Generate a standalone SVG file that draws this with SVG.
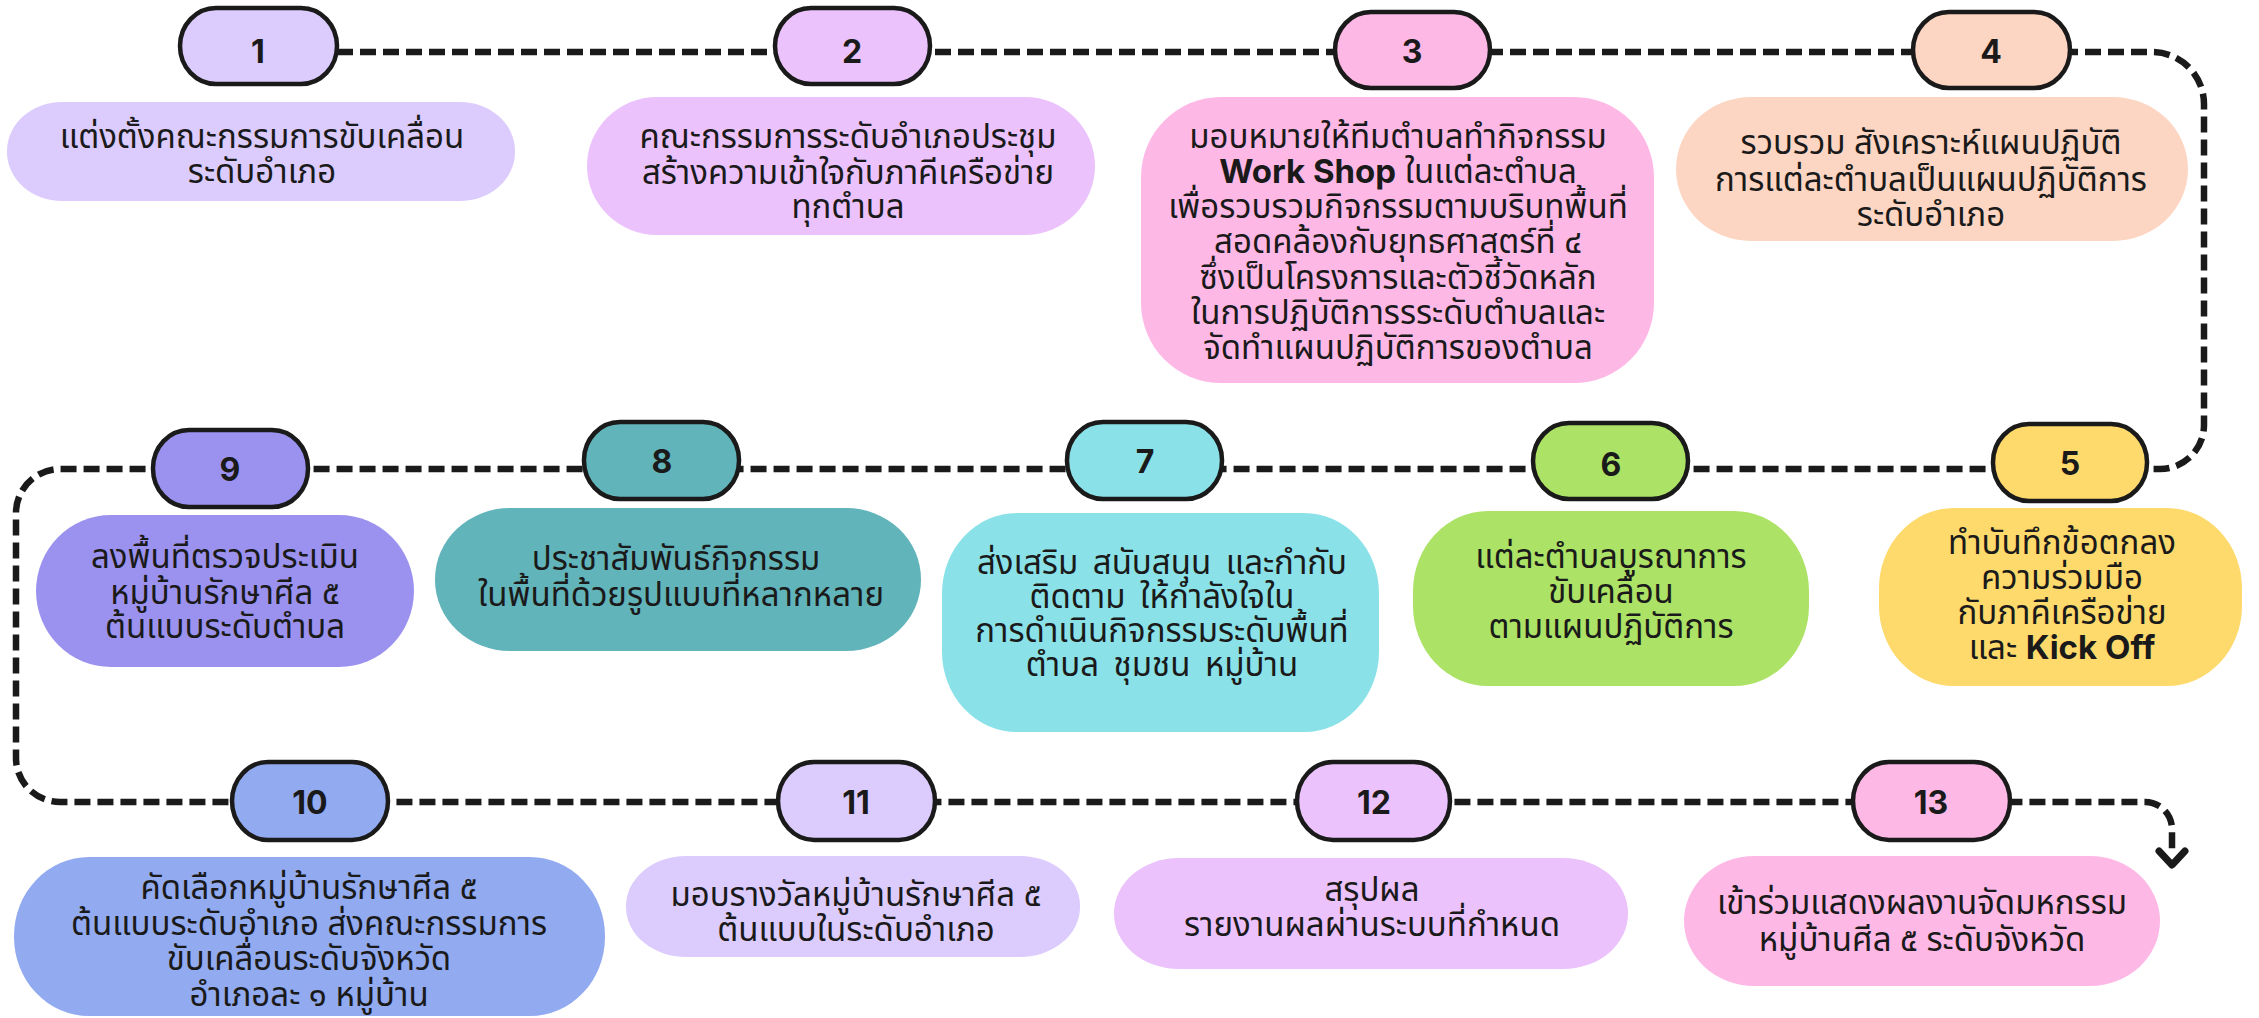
<svg xmlns="http://www.w3.org/2000/svg" width="2259" height="1018" viewBox="0 0 2259 1018">
<style>
.pill{stroke:#1a1a1a;stroke-width:4.5}
.num{font-family:Inter,'Open Sans','Liberation Sans',sans-serif;font-weight:700;font-size:32px;fill:#1a1a1a;text-anchor:middle}
.t{font-family:'Noto Sans Thai','Noto Sans','DejaVu Sans',sans-serif;font-size:33px;fill:#1a1a1a;text-anchor:middle}
.w{word-spacing:6px}
.b{font-family:Inter,'Open Sans','Liberation Sans',sans-serif;font-weight:700}
.conn{fill:none;stroke:#1a1a1a;stroke-width:6.5;stroke-dasharray:16 7}
.c1{fill:#dccbfd}.c2{fill:#ecc2fc}.c3{fill:#feb8e6}.c4{fill:#fdd5c3}.c5{fill:#fed96b}.c6{fill:#ace265}.c7{fill:#8ae2e8}.c8{fill:#62b4bb}.c9{fill:#9b92ef}.c10{fill:#92aaf0}
</style>
<rect width="2259" height="1018" fill="#ffffff"/>
<g id="connectors">
<path class="conn" d="M337 52 H2152 A52 52 0 0 1 2204 104 V425 A44 44 0 0 1 2160 469 H60 A44 44 0 0 0 16 513 V758 A44 44 0 0 0 60 802 H2145 A27 27 0 0 1 2172 829 V850"/>
<polyline points="2159,851 2172,865 2185,851" fill="none" stroke="#1a1a1a" stroke-width="7" stroke-linecap="round" stroke-linejoin="round"/>
</g>
<g id="node1">
<rect class="pill c1" x="180" y="8" width="157" height="76" rx="36" ry="38"/>
<text class="num" x="258" y="63">1</text>
<rect class="c1" x="7" y="102" width="508" height="99" rx="55" ry="49"/>
<text class="t" x="262" y="148">แต่งตั้งคณะกรรมการขับเคลื่อน</text>
<text class="t" x="262" y="183">ระดับอำเภอ</text>
</g>
<g id="node2">
<rect class="pill c2" x="775" y="8" width="155" height="76" rx="36" ry="38"/>
<text class="num" x="852" y="63">2</text>
<rect class="c2" x="587" y="97" width="508" height="138" rx="70" ry="69"/>
<text class="t" x="848" y="148">คณะกรรมการระดับอำเภอประชุม</text>
<text class="t" x="848" y="184">สร้างความเข้าใจกับภาคีเครือข่าย</text>
<text class="t" x="848" y="218">ทุกตำบล</text>
</g>
<g id="node3">
<rect class="pill c3" x="1335" y="12" width="155" height="76" rx="36" ry="38"/>
<text class="num" x="1412" y="63">3</text>
<rect class="c3" x="1141" y="97" width="513" height="286" rx="80" ry="80"/>
<text class="t" x="1398" y="148">มอบหมายให้ทีมตำบลทำกิจกรรม</text>
<text class="t" x="1398" y="183"><tspan class="b">Work Shop</tspan> ในแต่ละตำบล</text>
<text class="t" x="1398" y="218">เพื่อรวบรวมกิจกรรมตามบริบทพื้นที่</text>
<text class="t" x="1398" y="253">สอดคล้องกับยุทธศาสตร์ที่ ๔</text>
<text class="t" x="1398" y="289">ซึ่งเป็นโครงการและตัวชี้วัดหลัก</text>
<text class="t" x="1398" y="324">ในการปฏิบัติการรระดับตำบลและ</text>
<text class="t" x="1398" y="359">จัดทำแผนปฏิบัติการของตำบล</text>
</g>
<g id="node4">
<rect class="pill c4" x="1913" y="12" width="157" height="76" rx="36" ry="38"/>
<text class="num" x="1991" y="63">4</text>
<rect class="c4" x="1676" y="97" width="512" height="144" rx="75" ry="72"/>
<text class="t" x="1931" y="154">รวบรวม สังเคราะห์แผนปฏิบัติ</text>
<text class="t" x="1931" y="191">การแต่ละตำบลเป็นแผนปฏิบัติการ</text>
<text class="t" x="1931" y="226">ระดับอำเภอ</text>
</g>
<g id="node5">
<rect class="pill c5" x="1993" y="424" width="154" height="77" rx="36" ry="38"/>
<text class="num" x="2070" y="475">5</text>
<rect class="c5" x="1879" y="508" width="363" height="178" rx="75" ry="80"/>
<text class="t" x="2062" y="554">ทำบันทึกข้อตกลง</text>
<text class="t" x="2062" y="589">ความร่วมมือ</text>
<text class="t" x="2062" y="624">กับภาคีเครือข่าย</text>
<text class="t" x="2062" y="659">และ <tspan class="b">Kick Off</tspan></text>
</g>
<g id="node6">
<rect class="pill c6" x="1533" y="423" width="155" height="76" rx="36" ry="38"/>
<text class="num" x="1611" y="476">6</text>
<rect class="c6" x="1413" y="511" width="396" height="175" rx="75" ry="80"/>
<text class="t" x="1611" y="568">แต่ละตำบลบูรณาการ</text>
<text class="t" x="1611" y="603">ขับเคลื่อน</text>
<text class="t" x="1611" y="638">ตามแผนปฏิบัติการ</text>
</g>
<g id="node7">
<rect class="pill c7" x="1067" y="422" width="155" height="77" rx="36" ry="38"/>
<text class="num" x="1145" y="473">7</text>
<rect class="c7" x="942" y="513" width="437" height="219" rx="75" ry="80"/>
<text class="t w" x="1162" y="574">ส่งเสริม สนับสนุน และกำกับ</text>
<text class="t w" x="1162" y="608">ติดตาม ให้กำลังใจใน</text>
<text class="t w" x="1162" y="642">การดำเนินกิจกรรมระดับพื้นที่</text>
<text class="t w" x="1162" y="676">ตำบล ชุมชน หมู่บ้าน</text>
</g>
<g id="node8">
<rect class="pill c8" x="584" y="422" width="155" height="77" rx="36" ry="38"/>
<text class="num" x="662" y="473">8</text>
<rect class="c8" x="435" y="508" width="486" height="143" rx="75" ry="71"/>
<text class="t" x="676" y="570">ประชาสัมพันธ์กิจกรรม</text>
<text class="t" x="681" y="606">ในพื้นที่ด้วยรูปแบบที่หลากหลาย</text>
</g>
<g id="node9">
<rect class="pill c9" x="153" y="430" width="155" height="77" rx="36" ry="38"/>
<text class="num" x="230" y="481">9</text>
<rect class="c9" x="36" y="515" width="378" height="152" rx="75" ry="76"/>
<text class="t" x="225" y="568">ลงพื้นที่ตรวจประเมิน</text>
<text class="t" x="225" y="604">หมู่บ้านรักษาศีล ๕</text>
<text class="t" x="225" y="638">ต้นแบบระดับตำบล</text>
</g>
<g id="node10">
<rect class="pill c10" x="232" y="762" width="156" height="78" rx="36" ry="39"/>
<text class="num" x="310" y="814">10</text>
<rect class="c10" x="14" y="857" width="591" height="159" rx="75" ry="79"/>
<text class="t" x="309" y="899">คัดเลือกหมู่บ้านรักษาศีล ๕</text>
<text class="t" x="309" y="935">ต้นแบบระดับอำเภอ ส่งคณะกรรมการ</text>
<text class="t" x="309" y="970">ขับเคลื่อนระดับจังหวัด</text>
<text class="t" x="309" y="1006">อำเภอละ ๑ หมู่บ้าน</text>
</g>
<g id="node11">
<rect class="pill c1" x="778" y="762" width="157" height="78" rx="36" ry="39"/>
<text class="num" x="856" y="814">11</text>
<rect class="c1" x="626" y="856" width="454" height="101" rx="60" ry="50"/>
<text class="t" x="856" y="906">มอบรางวัลหมู่บ้านรักษาศีล ๕</text>
<text class="t" x="856" y="941">ต้นแบบในระดับอำเภอ</text>
</g>
<g id="node12">
<rect class="pill c2" x="1297" y="762" width="153" height="78" rx="36" ry="39"/>
<text class="num" x="1374" y="814">12</text>
<rect class="c2" x="1114" y="858" width="514" height="111" rx="65" ry="55"/>
<text class="t" x="1372" y="901">สรุปผล</text>
<text class="t" x="1372" y="936">รายงานผลผ่านระบบที่กำหนด</text>
</g>
<g id="node13">
<rect class="pill c3" x="1853" y="762" width="157" height="78" rx="36" ry="39"/>
<text class="num" x="1931" y="814">13</text>
<rect class="c3" x="1684" y="856" width="476" height="130" rx="70" ry="65"/>
<text class="t" x="1922" y="914">เข้าร่วมแสดงผลงานจัดมหกรรม</text>
<text class="t" x="1922" y="951">หมู่บ้านศีล ๕ ระดับจังหวัด</text>
</g>
</svg>
